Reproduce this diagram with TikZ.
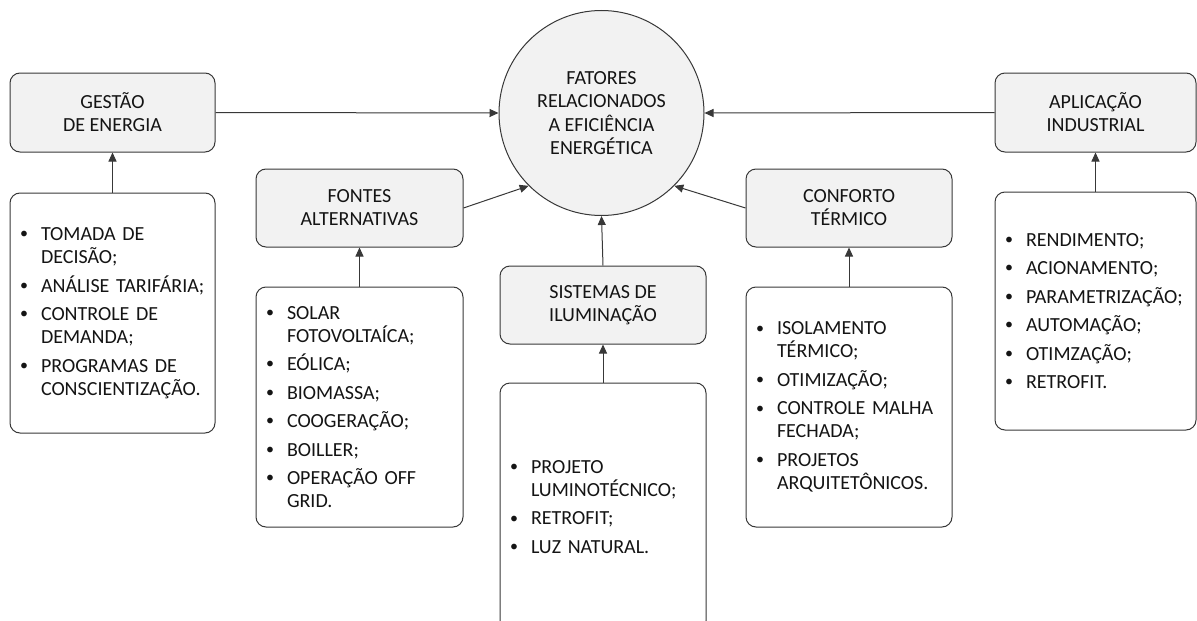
\documentclass[tikz,border=0pt]{standalone}
\usepackage{fontspec}
\setmainfont{Carlito}
\usetikzlibrary{arrows.meta}

% one bullet paragraph of a list, with hanging indent for wrapped lines
\newcommand\bitem[1]{\hangindent=31pt\hangafter=1\noindent
  \makebox[31pt][l]{\hspace{10pt}\raisebox{0.2ex}{\scalebox{0.8}{\textbullet}}}#1\par}

\definecolor{boxfill}{HTML}{F2F2F2}
\definecolor{edge}{HTML}{383838}
\definecolor{ink}{HTML}{141414}

\begin{document}
\begin{tikzpicture}[x=1pt,y=-1pt,
  every node/.style={text=ink},
  titlebox/.style={draw=edge, line width=1pt, fill=boxfill, rounded corners=10pt,
    align=center, inner sep=0pt, font=\fontsize{20}{23}\selectfont},
  listbox/.style={draw=edge, line width=1pt, fill=white, rounded corners=10pt,
    align=left, inner xsep=0pt, inner ysep=0pt,
    font=\fontsize{20}{23}\selectfont\setlength\parskip{5.5pt}},
  hub/.style={draw=edge, line width=1pt, fill=boxfill, circle, align=center,
    minimum size=205pt, inner sep=0pt, font=\fontsize{20}{23.5}\selectfont},
  link/.style={draw=edge, line width=1pt, -{Triangle[length=9pt,width=8pt]}}]

\useasboundingbox (0,0) rectangle (1197,621);

% central concept
\node[hub] (hub) at (601.5,113) {FATORES\\RELACIONADOS\\A EFICIÊNCIA\\ENERGÉTICA};

% energy management
\node[titlebox, minimum width=205pt, minimum height=79pt] (gestao) at (112.5,112.5) {GESTÃO\\DE ENERGIA};
\node[listbox, text width=205pt, minimum height=240pt] (gestaoL) at (112.5,313) {%
  \bitem{TOMADA DE\newline DECISÃO;}
  \bitem{ANÁLISE TARIFÁRIA;}
  \bitem{CONTROLE DE\newline DEMANDA;}
  \bitem{PROGRAMAS DE\newline CONSCIENTIZAÇÃO.}};

% alternative sources
\node[titlebox, minimum width=207pt, minimum height=78pt] (fontes) at (359.5,208) {FONTES\\ALTERNATIVAS};
\node[listbox, text width=207pt, minimum height=240pt] (fontesL) at (359.5,407) {%
  \bitem{SOLAR\newline FOTOVOLTAÍCA;}
  \bitem{EÓLICA;}
  \bitem{BIOMASSA;}
  \bitem{COOGERAÇÃO;}
  \bitem{BOILLER;}
  \bitem{OPERAÇÃO OFF\newline GRID.}};

% lighting systems
\node[titlebox, minimum width=206pt, minimum height=78pt] (ilum) at (603,305) {SISTEMAS DE\\ILUMINAÇÃO};
\node[listbox, text width=206pt, minimum height=248pt] (ilumL) at (603,507) {%
  \bitem{PROJETO\newline LUMINOTÉCNICO;}
  \bitem{RETROFIT;}
  \bitem{LUZ NATURAL.}};

% thermal comfort
\node[titlebox, minimum width=206pt, minimum height=78pt] (conforto) at (849,208) {CONFORTO\\TÉRMICO};
\node[listbox, text width=206pt, minimum height=240pt] (confortoL) at (849,407) {%
  \bitem{ISOLAMENTO\newline TÉRMICO;}
  \bitem{OTIMIZAÇÃO;}
  \bitem{CONTROLE MALHA\newline FECHADA;}
  \bitem{PROJETOS\newline ARQUITETÔNICOS.}};

% industrial application
\node[titlebox, minimum width=201pt, minimum height=79pt] (aplic) at (1095.5,112.5) {APLICAÇÃO\\INDUSTRIAL};
\node[listbox, text width=201pt, minimum height=238pt] (aplicL) at (1095.5,311) {%
  \bitem{RENDIMENTO;}
  \bitem{ACIONAMENTO;}
  \bitem{PARAMETRIZAÇÃO;}
  \bitem{AUTOMAÇÃO;}
  \bitem{OTIMZAÇÃO;}
  \bitem{RETROFIT.}};

% lists feed their topics
\draw[link] (gestaoL.north) -- (gestao.south);
\draw[link] (fontesL.north) -- (fontes.south);
\draw[link] (ilumL.north) -- (ilum.south);
\draw[link] (confortoL.north) -- (conforto.south);
\draw[link] (aplicL.north) -- (aplic.south);

% topics feed the central concept
\draw[link] (gestao.east) -- (hub.west);
\draw[link] (aplic.west) -- (hub.east);
\draw[link] (fontes.east) -- (hub.225);
\draw[link] (conforto.west) -- (hub.315);
\draw[link] (ilum.north) -- (hub.south);
\end{tikzpicture}
\end{document}
